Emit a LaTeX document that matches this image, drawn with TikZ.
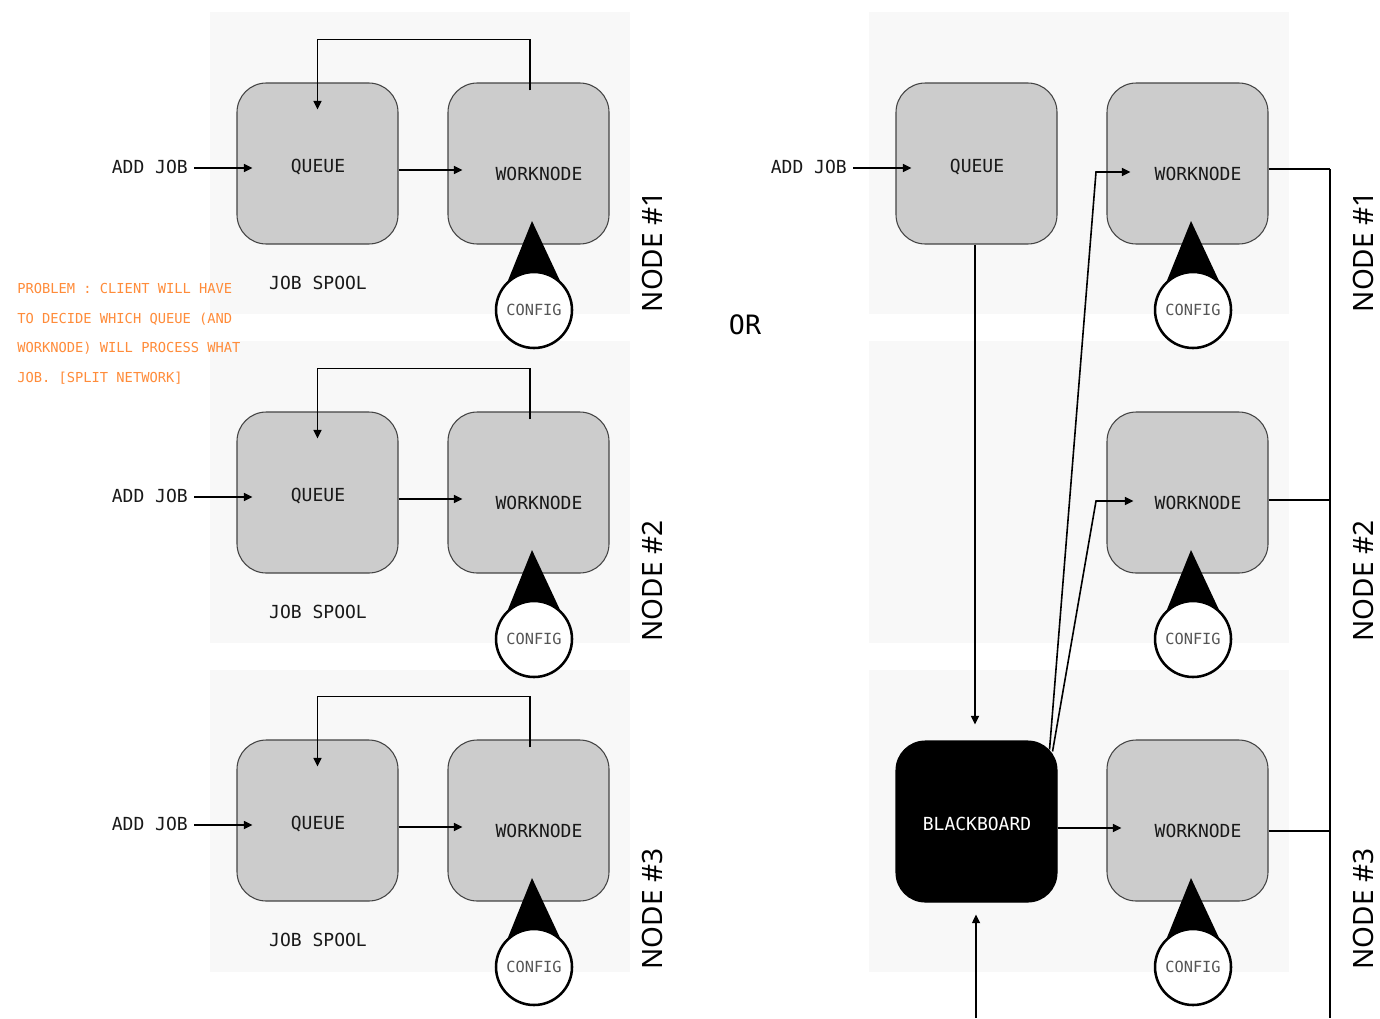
\documentclass[tikz,border=0pt]{standalone}
\usepackage{fontspec}
\setmainfont{DejaVu Sans Mono}
\newfontfamily\labfont{Noto Sans}
\usetikzlibrary{arrows.meta,calc}
\definecolor{panelbg}{HTML}{F8F8F8}
\definecolor{boxfill}{HTML}{CCCCCC}
\definecolor{boxline}{HTML}{444444}
\definecolor{warn}{HTML}{FF8C3A}
\definecolor{cfgtext}{HTML}{555555}
\tikzset{
  panel/.style={fill=panelbg, draw=none},
  proc/.style={draw=boxline, line width=0.8pt, fill=boxfill, rounded corners=22pt, minimum width=120.75pt, minimum height=120.75pt, inner sep=0pt},
  bboard/.style={proc, fill=black, draw=black},
  lbl/.style={font=\fontsize{13.5}{16}\selectfont, inner sep=0pt, text=black!90},
  cfg/.style={circle, draw=black, line width=1.9pt, fill=white, minimum size=57pt, inner sep=0pt, text=cfgtext, font=\fontsize{11.5}{13}\selectfont},
  nodelbl/.style={font=\labfont\fontsize{21}{24}\selectfont, rotate=90, inner sep=0pt},
  arr/.style={line width=1.2pt, -{Triangle[length=6.5pt,width=6pt]}},
  wire/.style={line width=1.2pt},
}
\begin{document}
\begin{tikzpicture}[x=0.75pt,y=-0.75pt]
\useasboundingbox (0,0) rectangle (1380,1018);
\fill[white] (0,0) rectangle (1380,1018);
% panels
\foreach \i/\dy in {1/0,2/329,3/658}{
  \fill[panelbg] (210,12+\dy) rectangle (630,314+\dy);
  \fill[panelbg] (869,12+\dy) rectangle (1289,314+\dy);
}
% ---------- left column ----------
\foreach \i/\dy in {1/0,2/329,3/657}{
  \node[proc] (q\i) at (317.5,163.5+\dy) {};
  \node[proc] (w\i) at (528.5,163.5+\dy) {};
  \node[lbl] (ql\i) at (318,167+\dy) {QUEUE};
  \node[lbl] (wl\i) at (539,174+\dy) {WORKNODE};
  \node[lbl, anchor=east] (add\i) at (188,167+\dy) {ADD JOB};
  \node[lbl] (sp\i) at (318,283+\dy) {JOB SPOOL};
  \draw[arr] (add\i.east |- 0,168+\dy) ++(6,0) -- ($(q\i.west)+(16,4.5)$);
  \draw[arr] ($(q\i.east)+(0,6.5)$) -- ($(w\i.west)+(15,6.5)$);
  \draw[arr] ($(w\i.north)+(1.5,8)$) |- ($(q\i.north)+(0,-43)$) -- ($(q\i.north)+(0,27)$);
  \fill[black] (532,221+\dy) -- (507,283+\dy) -- (561,283+\dy) -- cycle;
  \node[cfg] (c\i) at (534,310+\dy) {CONFIG};
  \node[nodelbl] (n\i) at (652,252+\dy) {NODE \#\i};
}
% problem text
\node[anchor=north west, align=left, text=warn, inner sep=0pt, font=\fontsize{10.3}{22.3}\selectfont] (prob) at (17,283)
  {PROBLEM : CLIENT WILL HAVE\\TO DECIDE WHICH QUEUE (AND\\WORKNODE) WILL PROCESS WHAT\\JOB. [SPLIT NETWORK]};
% OR
\node[font=\fontsize{20}{24}\selectfont, inner sep=0pt] (or) at (745,325) {OR};
% ---------- right column ----------
\node[proc] (rq) at (976.5,163.5) {};
\node[lbl] (rql) at (977,167) {QUEUE};
\node[lbl, anchor=east] (radd) at (847,167) {ADD JOB};
\draw[arr] ($(radd.east)+(6,1)$) -- ($(rq.west)+(16,4.5)$);
\node[bboard] (bb) at (976.5,821.5) {};
\node[lbl, text=white] (bbl) at (977,824) {BLACKBOARD};
\draw[arr] ($(rq.south)+(-1.5,0)$) -- ($(bb.north)+(-1.5,-16)$);
\coordinate (bin) at (976,1018);
\draw[arr] (bin) -- ($(bb.south)+(-0.5,12)$);
\foreach \i/\dy in {1/0,2/329,3/657}{
  \node[proc] (rw\i) at (1187.5,163.5+\dy) {};
  \node[lbl] (rwl\i) at (1198,174+\dy) {WORKNODE};
  \fill[black] (1191,221+\dy) -- (1166,283+\dy) -- (1220,283+\dy) -- cycle;
  \node[cfg] (rc\i) at (1193,310+\dy) {CONFIG};
  \node[nodelbl] (rn\i) at (1363,252+\dy) {NODE \#\i};
}
\coordinate (bus1) at (1330,169);
\coordinate (bus2) at (1330,500);
\coordinate (bus3) at (1330,831);
\draw[arr] ($(bb.east)+(0,6.5)$) -- ($(bb.east -| rw3.west)+(15,6.5)$);
\coordinate (k1) at (1096,172);
\coordinate (k2) at (1096,501);
\draw[arr] ($(bb.north east)+(-8,9)$) -- (k1) -- ($(rw1.west)+(24,8.5)$);
\draw[arr] ($(bb.north east)+(-5,11)$) -- (k2) -- ($(rw2.west)+(27,8.5)$);
\draw[wire] (rw1.east |- bus1) -- (bus1);
\draw[wire] (rw2.east |- bus2) -- (bus2);
\draw[wire] (rw3.east |- bus3) -- (bus3);
\coordinate (busend) at (1330,1018);
\draw[wire] (bus1) -- (busend);
\end{tikzpicture}
\end{document}
